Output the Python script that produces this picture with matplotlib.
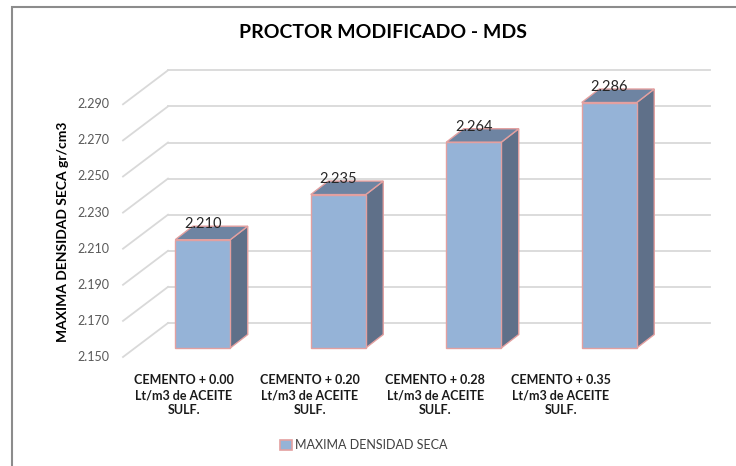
import matplotlib.pyplot as plt
from matplotlib.patches import Polygon, Rectangle, Patch

plt.rcParams['font.family'] = ['Lato', 'DejaVu Sans']

# Datos
categorias = ["CEMENTO + 0.00\nLt/m3 de ACEITE\nSULF.",
              "CEMENTO + 0.20\nLt/m3 de ACEITE\nSULF.",
              "CEMENTO + 0.28\nLt/m3 de ACEITE\nSULF.",
              "CEMENTO + 0.35\nLt/m3 de ACEITE\nSULF."]
mds = [2.210, 2.235, 2.264, 2.286]
etiquetas = ["2.210", "2.235", "2.264", "2.286"]
ticks = [2.150, 2.170, 2.190, 2.210, 2.230, 2.250, 2.270, 2.290]

W, H = 736, 466
fig = plt.figure(figsize=(W / 100, H / 100), dpi=100)

# marco del grafico
fig.add_artist(Rectangle((12 / W, -0.1), 1.1, 1 - 7 / H + 0.1, transform=fig.transFigure,
                         fill=False, edgecolor="#8c8c8c", linewidth=1.5))

# plano frontal de la caja 3D
x0, x1, ytop, ybot = 123, 665, 104.3, 357
ax = fig.add_axes([x0 / W, 1 - ybot / H, (x1 - x0) / W, (ybot - ytop) / H])
ax.set_xlim(-0.5, 3.5)
ax.set_ylim(2.150, 2.290)
ax.axis("off")

# conversion pixeles -> datos
sx = 4.0 / (x1 - x0)
sy = 0.14 / (ybot - ytop)

# profundidad de la pared y de las barras (en pixeles)
wall_dx, wall_dy = 45 * sx, 34 * sy
bar_off_x, bar_off_y = 12 * sx, 9 * sy
side_dx, side_dy = 17.5 * sx, 13.5 * sy
half_w = 27.5 * sx

grid_c = "#d9d9d9"
for t in ticks:
    # pared del fondo
    ax.plot([-0.5 + wall_dx, 3.5 + wall_dx], [t + wall_dy, t + wall_dy],
            color=grid_c, lw=1.3, clip_on=False, zorder=1)
    # pared lateral
    ax.plot([-0.5, -0.5 + wall_dx], [t, t + wall_dy],
            color=grid_c, lw=1.3, clip_on=False, zorder=1)
    ax.text(-0.5 - 14 * sx, t, f"{t:.3f}", ha="right", va="center",
            fontsize=9, color="#595959")

front_c, top_c, side_c, edge_c = "#95b3d7", "#6e84a2", "#5f7089", "#e3a0a0"
base = 2.150
for i, v in enumerate(mds):
    xl = i - half_w + bar_off_x
    xr = i + half_w + bar_off_x
    yb = base + bar_off_y
    yt = v + bar_off_y
    front = [(xl, yb), (xr, yb), (xr, yt), (xl, yt)]
    top = [(xl, yt), (xr, yt), (xr + side_dx, yt + side_dy), (xl + side_dx, yt + side_dy)]
    side = [(xr, yb), (xr + side_dx, yb + side_dy), (xr + side_dx, yt + side_dy), (xr, yt)]
    for pts, c in [(side, side_c), (top, top_c), (front, front_c)]:
        ax.add_patch(Polygon(pts, closed=True, facecolor=c, edgecolor=edge_c,
                             linewidth=1.0, clip_on=False, zorder=3))
    ax.text(i + bar_off_x, yt + side_dy + 2 * sy, etiquetas[i], ha="center", va="center",
            fontsize=10.5, color="#262626", zorder=4)

# etiquetas de categorias
for i, c in enumerate(categorias):
    fig.text((184 + 125.67 * i) / W, 1 - 395 / H, c, ha="center", va="center",
             fontsize=9, fontweight="bold", color="#1a1a1a", linespacing=1.35)

fig.text(383 / W, 1 - 33 / H, "PROCTOR MODIFICADO - MDS", ha="center", va="center",
         fontsize=14, fontweight="bold", color="#000000")
fig.text(63 / W, 1 - 232 / H, "MAXIMA DENSIDAD SECA gr/cm3", rotation=90,
         ha="center", va="center", fontsize=10, fontweight="bold", color="#000000")

fig.legend(handles=[Patch(facecolor=front_c, edgecolor=edge_c, linewidth=1.2,
                          label="MAXIMA DENSIDAD SECA")],
           loc="center", bbox_to_anchor=(364 / W, 1 - 445 / H), frameon=False,
           fontsize=9, handlelength=0.9, handleheight=0.9, handletextpad=0.3,
           labelcolor="#404040")

fig.savefig("out.png", dpi=100)
